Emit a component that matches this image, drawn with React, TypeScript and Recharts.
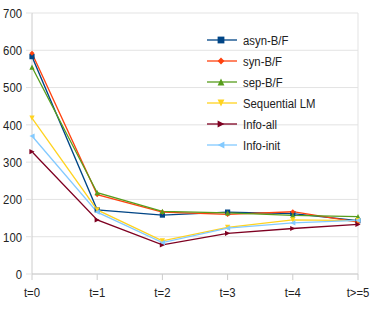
import { CartesianGrid, Line, LineChart, ReferenceLine, XAxis, YAxis } from "recharts";

const steps = ["t=0", "t=1", "t=2", "t=3", "t=4", "t>=5"];
const asynBF = [583, 172, 158, 166, 162, 143];
const synBF = [592, 213, 166, 160, 167, 139];
const sepBF = [555, 218, 168, 164, 157, 154];
const sequentialLM = [418, 172, 89, 125, 145, 143];
const infoAll = [328, 145, 78, 109, 122, 133];
const infoInit = [370, 166, 84, 123, 137, 144];
const yTicks = [0, 100, 200, 300, 400, 500, 600, 700];

const data = steps.map((s, i) => ({
  step: s,
  asyn: asynBF[i],
  syn: synBF[i],
  sep: sepBF[i],
  seq: sequentialLM[i],
  all: infoAll[i],
  init: infoInit[i],
}));

type Shape = "square" | "diamond" | "up" | "down" | "right" | "left";

const series: { key: string; name: string; color: string; shape: Shape }[] = [
  { key: "asyn", name: "asyn-B/F", color: "#004586", shape: "square" },
  { key: "syn", name: "syn-B/F", color: "#ff420e", shape: "diamond" },
  { key: "sep", name: "sep-B/F", color: "#579d1c", shape: "up" },
  { key: "seq", name: "Sequential LM", color: "#ffd320", shape: "down" },
  { key: "all", name: "Info-all", color: "#7e0021", shape: "right" },
  { key: "init", name: "Info-init", color: "#83caff", shape: "left" },
];

const grid = "#e3e3e3";
const font = "'Liberation Sans', Arial, sans-serif";
const squeeze = "scale(0.84,1)"; // the original font is a narrow one

function markerPath(shape: Shape, x: number, y: number, r: number) {
  switch (shape) {
    case "square":
      return `M${x - r},${y - r}h${2 * r}v${2 * r}h${-2 * r}Z`;
    case "diamond":
      return `M${x},${y - r}L${x + r},${y}L${x},${y + r}L${x - r},${y}Z`;
    case "up":
      return `M${x},${y - r}L${x + r},${y + r}L${x - r},${y + r}Z`;
    case "down":
      return `M${x - r},${y - r}L${x + r},${y - r}L${x},${y + r}Z`;
    case "right":
      return `M${x - r},${y - r}L${x + r},${y}L${x - r},${y + r}Z`;
    default:
      return `M${x + r},${y - r}L${x - r},${y}L${x + r},${y + r}Z`;
  }
}

function makeDot(shape: Shape, color: string) {
  return (props: any) => {
    const { cx, cy, index } = props;
    if (cx == null || cy == null) return <g key={index} />;
    return <path key={index} d={markerPath(shape, cx, cy, 2.6)} fill={color} />;
  };
}

function NarrowTick(props: any) {
  const { x, y, payload, textAnchor, vertical } = props;
  return (
    <g transform={`translate(${x},${y})`}>
      <text
        transform={squeeze}
        textAnchor={textAnchor}
        dy={vertical ? "0.36em" : "0.71em"}
        fontSize={13.5}
        fontFamily={font}
        fill="#222"
      >
        {payload.value}
      </text>
    </g>
  );
}

function LegendBox() {
  return (
    <svg width={130} height={130} style={{ position: "absolute", left: 205, top: 33 }}>
      {series.map((s, i) => {
        const y = 7 + i * 21;
        return (
          <g key={s.key}>
            <line x1={2} x2={32} y1={y} y2={y} stroke={s.color} strokeWidth={1.3} />
            <path d={markerPath(s.shape, 16, y, 3.4)} fill={s.color} />
            <g transform={`translate(38,${y + 5})`}>
              <text transform={squeeze} fontSize={13.5} fontFamily={font} fill="#222">
                {s.name}
              </text>
            </g>
          </g>
        );
      })}
    </svg>
  );
}

export default function App() {
  return (
    <div style={{ position: "absolute", left: 0, top: 0, width: 374, height: 309, background: "#fff" }}>
      <LineChart width={374} height={309} data={data} margin={{ top: 13, right: 16, bottom: 0, left: 0 }}>
        <CartesianGrid stroke={grid} vertical={false} />
        <ReferenceLine x="t>=5" stroke={grid} />
        <XAxis
          dataKey="step"
          height={35}
          tick={<NarrowTick />}
          tickLine={{ stroke: "#cccccc" }}
          tickSize={6}
          tickMargin={7}
          axisLine={{ stroke: "#cccccc" }}
        />
        <YAxis
          domain={[0, 700]}
          ticks={yTicks}
          width={32}
          tick={<NarrowTick vertical />}
          tickLine={{ stroke: grid }}
          tickSize={6}
          tickMargin={4}
          axisLine={{ stroke: "#cccccc" }}
        />
        {series.map((s) => (
          <Line
            key={s.key}
            dataKey={s.key}
            name={s.name}
            type="linear"
            stroke={s.color}
            strokeWidth={1.3}
            dot={makeDot(s.shape, s.color)}
            activeDot={false}
            isAnimationActive={false}
          />
        ))}
      </LineChart>
      <LegendBox />
    </div>
  );
}
